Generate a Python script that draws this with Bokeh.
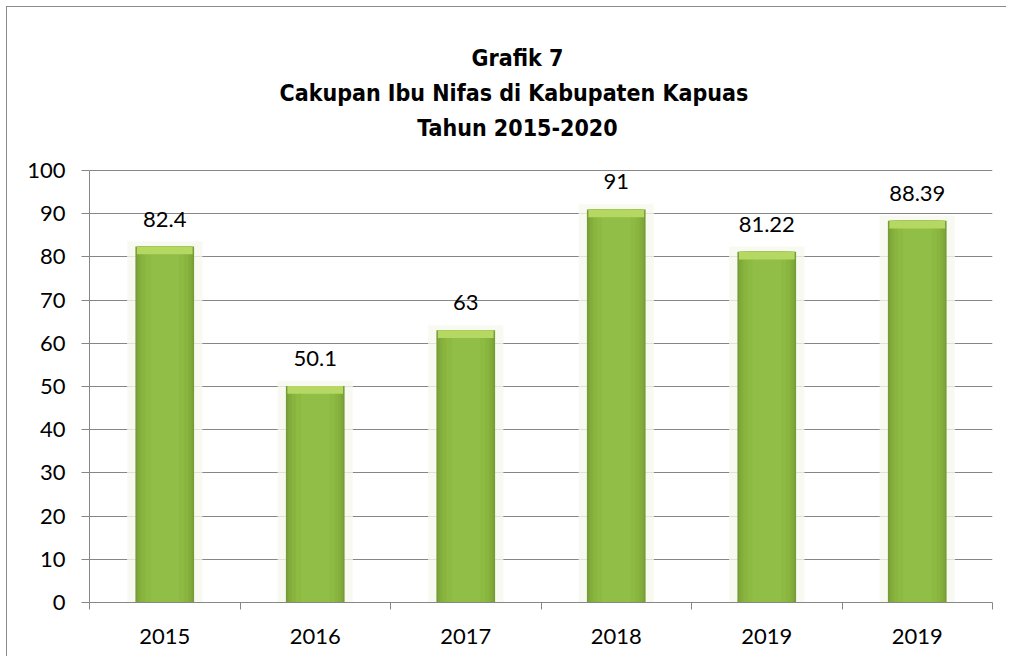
from bokeh.plotting import figure
from bokeh.models import Range1d, FixedTicker, ColumnDataSource, LabelSet, Label
from bokeh.core.properties import value
from bokeh.embed import file_html
from bokeh.resources import INLINE

# ---- data ----
years = ["2015", "2016", "2017", "2018", "2019", "2019"]
coverage = [82.4, 50.1, 63, 91, 81.22, 88.39]
coverage_text = ["82.4", "50.1", "63", "91", "81.22", "88.39"]
y_ticks = [0, 10, 20, 30, 40, 50, 60, 70, 80, 90, 100]
title_lines = ["Grafik 7", "Cakupan  Ibu Nifas di Kabupaten Kapuas", "Tahun 2015-2020"]

positions = list(range(1, len(years) + 1))
cap_bottom = [v - 1.8 for v in coverage]
halo_top = [v + 1.2 for v in coverage]

src = ColumnDataSource(dict(x=positions, top=coverage, txt=coverage_text,
                            cap=cap_bottom, halo=halo_top))

# layout: value axis 0..100 spans 432 px; the frame is extended upward so the
# title lines (annotations) lie inside it
W, H = 1000, 650
BORDER_L, BORDER_R, BORDER_T, BORDER_B = 82, 15, 10, 55
AXIS_PX = 432
frame_h = H - BORDER_T - BORDER_B
y_top = 100 * frame_h / AXIS_PX

p = figure(width=W, height=H, output_backend="svg", toolbar_location=None,
           x_range=Range1d(0.5, len(years) + 0.5), y_range=Range1d(0, y_top),
           min_border_left=BORDER_L, min_border_right=BORDER_R,
           min_border_top=BORDER_T, min_border_bottom=BORDER_B)
p.outline_line_color = None
p.background_fill_color = "white"
p.border_fill_color = "white"
p.styles = {"border-left": "1px solid #8a8a8a", "border-top": "1px solid #8a8a8a",
            "margin-left": "6px", "margin-top": "6px"}

GRAY = "#868686"
FONT = "Lato"

# grid
p.xgrid.visible = False
p.ygrid.grid_line_color = GRAY
p.ygrid.grid_line_width = 1
p.ygrid.ticker = FixedTicker(ticks=y_ticks)

# y axis
p.yaxis.ticker = FixedTicker(ticks=y_ticks)
p.yaxis.bounds = (0, 100)
p.yaxis.axis_line_color = GRAY
p.yaxis.major_tick_line_color = GRAY
p.yaxis.major_tick_out = 8
p.yaxis.major_tick_in = 0
p.yaxis.minor_tick_line_color = None
p.yaxis.major_label_text_font = FONT
p.yaxis.major_label_text_font_size = "22px"
p.yaxis.major_label_text_color = "black"
p.yaxis.major_label_standoff = 16

# x axis
p.xaxis.ticker = FixedTicker(ticks=positions,
                             minor_ticks=[i + 0.5 for i in range(0, len(years) + 1)])
p.xaxis.major_label_overrides = {pos: lab for pos, lab in zip(positions, years)}
p.xaxis.axis_line_color = GRAY
p.xaxis.major_tick_line_color = None
p.xaxis.major_tick_out = 0
p.xaxis.major_tick_in = 0
p.xaxis.minor_tick_line_color = GRAY
p.xaxis.minor_tick_out = 7
p.xaxis.minor_tick_in = 0
p.xaxis.major_label_text_font = FONT
p.xaxis.major_label_text_font_size = "22px"
p.xaxis.major_label_text_color = "black"
p.xaxis.major_label_standoff = 19

# bars: halo + layered gradient look
p.vbar(x="x", top="halo", bottom=0, width=0.5, source=src,
       fill_color="#f6f9ef", fill_alpha=0.8, line_color=None)
layers = [(0.39, "#769c35"), (0.37, "#7ea63a"), (0.345, "#84ae3c"),
          (0.31, "#89b53f"), (0.26, "#8dba42"), (0.19, "#91be46")]
for w, c in layers:
    p.vbar(x="x", top="top", bottom=0, width=w, source=src,
           fill_color=c, line_color=None)
p.vbar(x="x", top="top", bottom="cap", width=0.37, source=src,
       fill_color="#b5d862", line_color=None)

labels = LabelSet(x="x", y="top", text="txt", source=src, text_align="center",
                  text_baseline="alphabetic", y_offset=20, text_font=value(FONT),
                  text_font_size=value("22px"), text_color=value("black"))
p.add_layout(labels)

# title (3 lines): anchored at the top-left of the value axis, shifted in pixels
title_offsets = [113, 78, 43]   # baselines, pixels above value 100
for line, off in zip(title_lines, title_offsets):
    p.add_layout(Label(x=0.5, y=100, x_offset=428, y_offset=off, text=line,
                       text_align="center", text_baseline="alphabetic",
                       text_font="DejaVu Sans Condensed", text_font_style="bold",
                       text_font_size="23px", text_color="black"))

open("out.html", "w").write(file_html(p, INLINE))
